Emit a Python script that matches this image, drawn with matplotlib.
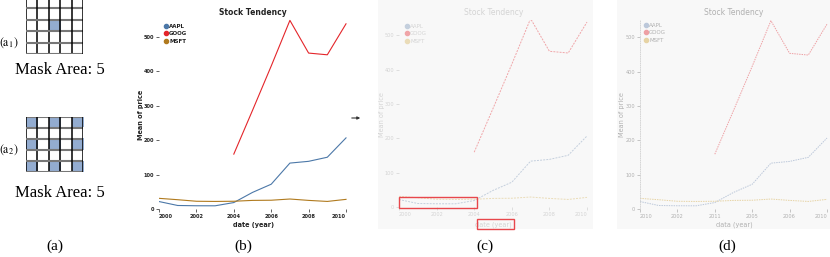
import numpy as np
import matplotlib
matplotlib.use('Agg')
import matplotlib.pyplot as plt
from matplotlib.colors import ListedColormap
from matplotlib.lines import Line2D
from matplotlib.patches import Rectangle

# ---- data ----
years = [2000, 2001, 2002, 2003, 2004, 2005, 2006, 2007, 2008, 2009, 2010]
aapl = [21.7, 10.2, 9.4, 9.3, 18.7, 48.2, 72.0, 133.4, 138.5, 150.4, 206.6]
goog_years = [2004, 2005, 2006, 2007, 2008, 2009, 2010]
goog = [159.5, 286.5, 415.3, 548.0, 453.0, 448.0, 538.0]
msft = [31.0, 27.0, 22.5, 22.0, 22.5, 25.0, 25.5, 29.0, 25.0, 22.0, 28.0]
symbols = ['AAPL', 'GOOG', 'MSFT']
tick_years = [2000, 2002, 2004, 2006, 2008, 2010]
tick_labels = ['2000', '2002', '2004', '2006', '2008', '2010']
tick_labels_d = ['2010', '2002', '2011', '2005', '2006', '2010']
y_ticks = [0, 100, 200, 300, 400, 500]

mask_center = np.zeros((5, 5))
mask_center[2, 2] = 1
mask_spread = np.zeros((5, 5))
mask_spread[::2, ::2] = 1

colors = ['#4c78a8', '#e4252a', '#b07a1e']

W, H = 830, 257
fig = plt.figure(figsize=(W/100, H/100), dpi=100)

def box(l, t, r, b):
    return [l/W, 1-b/H, (r-l)/W, (b-t)/H]

def ftext(x, y, s, **kw):
    fig.text(x/W, 1-y/H, s, ha=kw.pop('ha', 'center'), va=kw.pop('va', 'center'), **kw)

serif = 'Liberation Serif'
plt.rcParams['mathtext.fontset'] = 'stix'

# background boxes for (c) and (d)
for l, r in [(378, 593), (617, 830)]:
    bg = fig.add_axes(box(l, 0, r, 229), zorder=-5)
    bg.set_facecolor('#f8f8f8')
    bg.set_xticks([]); bg.set_yticks([])
    for sp in bg.spines.values():
        sp.set_visible(False)

# ---- panel (a) ----
for mask, (t, b), sub, ly, my in [(mask_center, (-3, 54), '1', 43, 70),
                                   (mask_spread, (117, 172), '2', 150, 193)]:
    ax = fig.add_axes(box(26, t, 83, b))
    ax.imshow(mask, cmap=ListedColormap(['white', '#93acd0']), vmin=0, vmax=1,
              extent=(0, 5, 5, 0), aspect='auto')
    for k in range(6):
        ax.axhline(k, color='#777777', lw=1.5)
        ax.axvline(k, color='black', lw=1.1)
    ax.set_xlim(0, 5); ax.set_ylim(5, 0)
    ax.axis('off')
    ftext(9, ly, r'$\mathrm{(a_%s)}$' % sub, fontsize=8.5)
    ftext(60, my, 'Mask Area: 5', fontsize=12, family=serif)

# ---- stock panels ----
def stock_panel(rect, style):
    ax = fig.add_axes(box(*rect), zorder=2)
    ax.patch.set_alpha(0)
    ax.plot(years, aapl, color=style['colors'][0], **style['line'])
    ax.plot(goog_years, goog, color=style['colors'][1], **style['line'])
    ax.plot(years, msft, color=style['colors'][2], **style['line'])
    ax.set_xlim(2000, 2010.16)
    ax.set_ylim(0, style['ymax'])
    for sp in ax.spines.values():
        sp.set_visible(False)
    if style.get('yaxis'):
        ax.spines['left'].set_visible(True)
        ax.spines['left'].set_color(style['yaxis'])
        ax.spines['left'].set_linestyle(':')
        ax.spines['left'].set_linewidth(0.6)
    ax.set_xticks(tick_years)
    ax.set_xticklabels(style['xticks'])
    ax.set_yticks(y_ticks)
    ax.tick_params(length=2, width=0.5, pad=1.5, color=style['tc'], labelcolor=style['tc'],
                   labelsize=3.6)
    for lab in ax.get_xticklabels() + ax.get_yticklabels():
        lab.set_fontweight(style['weight'])
    xl = ax.get_xticklabels()
    xl[0].set_ha('left')
    xl[-1].set_ha('right')
    ax.legend(handles=[Line2D([], [], marker='o', ls='', ms=3, color=c)
                       for c in style['colors']],
              labels=symbols, loc='upper left', frameon=False,
              bbox_to_anchor=(style['leg'][0]/W, 1-style['leg'][1]/H),
              bbox_transform=fig.transFigure, borderpad=0, handlelength=0.6,
              handletextpad=0.2, labelspacing=0.45,
              prop={'size': 4, 'weight': style['weight']}, labelcolor=style['tc'])
    cx = (rect[0] + rect[2]) / 2
    ftext(cx - 1, 12, 'Stock Tendency', fontsize=5.5, weight=style['weight'], color=style['tc'])
    ftext(cx - 1, 225, style['xlabel'], fontsize=4.7, weight=style['weight'], color=style['tc'])
    ftext(style['ylx'], 115, 'Mean of price', fontsize=4.7, weight=style['weight'],
          color=style['tc'], rotation=90)
    return ax

stock_panel((159, 19, 349, 209), dict(colors=colors, line=dict(lw=0.8), ymax=552,
            xticks=tick_labels, tc='#222222', weight='bold', leg=(162, 21),
            xlabel='date (year)', ylx=141))

faint_c = ['#c4cfdd', '#f0a5a8', '#eadcb8']
stock_panel((399, 20, 590, 207), dict(colors=faint_c, line=dict(lw=0.7, ls=(0, (2, 1.2))),
            ymax=544, xticks=tick_labels, tc='#d4d4d4', weight='normal', leg=(403, 21),
            xlabel='date (year)', ylx=382))

faint_d = ['#bcc8da', '#eea0a4', '#e6d3a4']
stock_panel((640, 20, 830, 209), dict(colors=faint_d, line=dict(lw=0.7, ls=(0, (1.5, 1))),
            ymax=550, xticks=tick_labels_d, tc='#b0b0b0', weight='normal', leg=(642, 20),
            xlabel='data (year)', ylx=622, yaxis='#d0d0d0'))

# red highlight boxes in (c)
for l, t, r, b in [(399, 197, 477, 208), (477, 219, 514, 229)]:
    fig.patches.append(Rectangle((l/W, 1-b/H), (r-l)/W, (b-t)/H, transform=fig.transFigure,
                                 facecolor='none', edgecolor='#e8474c', lw=1.0, zorder=5))

# arrow between (b) and (c)
fig.add_artist(plt.Annotation('', xy=(363/W, 1-118/H), xytext=(349/W, 1-118/H),
                              xycoords='figure fraction',
                              arrowprops=dict(arrowstyle='-|>', color='#333333', lw=0.8,
                                              mutation_scale=4)))

# panel captions
for x, s in [(55, '(a)'), (243, '(b)'), (485, '(c)'), (727, '(d)')]:
    ftext(x, 246, s, fontsize=11, family=serif)

fig.savefig('out.png', dpi=100)
